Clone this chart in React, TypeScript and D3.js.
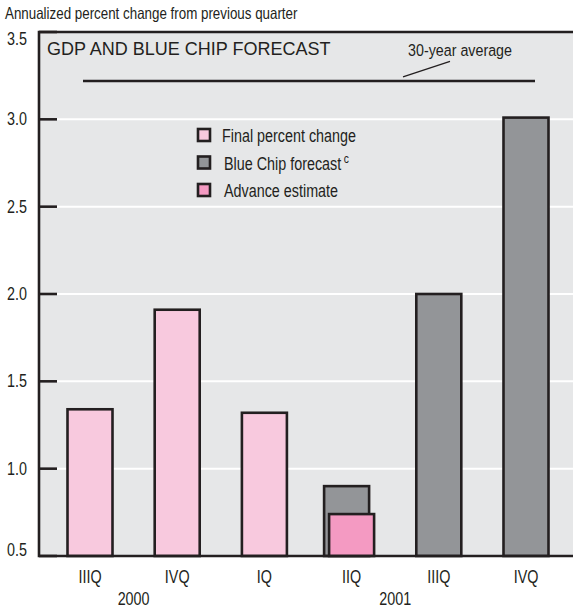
import React from "react";
import * as d3 from "d3";

// Quarters on the x axis and the years they belong to
const quarters = ["IIIQ 2000", "IVQ 2000", "IQ 2001", "IIQ 2001", "IIIQ 2001", "IVQ 2001"];
const quarterLabels = ["IIIQ", "IVQ", "IQ", "IIQ", "IIIQ", "IVQ"];
const yearLabels = [
  { year: "2000", from: "IIIQ 2000", to: "IVQ 2000" },
  { year: "2001", from: "IQ 2001", to: "IVQ 2001" },
];

// Annualized percent change
const finalChange = [1.34, 1.91, 1.32, null, null, null];
const blueChipForecast = [null, null, null, 0.9, 2.0, 3.01];
const advanceEstimate = [null, null, null, 0.74, null, null];
const thirtyYearAverage = 3.22;

const yTicks = [0.5, 1.0, 1.5, 2.0, 2.5, 3.0, 3.5];
const legendItems = [
  { label: "Final percent change", key: "final" },
  { label: "Blue Chip forecast", key: "forecast", note: "c" },
  { label: "Advance estimate", key: "advance" },
];

const W = 573;
const H = 609;
const INK = "#231f20";
const BG = "#e6e7e8";
const COLORS: Record<string, string> = {
  final: "#f8c9de",
  forecast: "#939598",
  advance: "#f49ac2",
};
const SANS = "'Liberation Sans', Arial, Helvetica, sans-serif";
const NARROW_X = 0.82;

// Condensed text: regular sans squeezed horizontally
function NText({
  x,
  y,
  size = 17.5,
  anchor = "start",
  dy,
  children,
}: {
  x: number;
  y: number;
  size?: number;
  anchor?: "start" | "middle" | "end";
  dy?: string;
  children: React.ReactNode;
}) {
  return (
    <text
      transform={`translate(${x},${y}) scale(${NARROW_X},1)`}
      dy={dy}
      textAnchor={anchor}
      fontFamily={SANS}
      fontSize={size}
      fill={INK}
    >
      {children}
    </text>
  );
}

export default function App() {
  const plot = { left: 39, top: 32, right: W + 4, bottom: 556 };
  const y = d3.scaleLinear().domain([0.5, 3.5]).range([plot.bottom, plot.top]);
  const x = d3.scalePoint<string>().domain(quarters).range([90, 526]);
  const barW = 45;

  const bars: { key: string; x0: number; v: number }[] = [];
  quarters.forEach((q, i) => {
    const c = x(q)!;
    const f = finalChange[i];
    const b = blueChipForecast[i];
    const a = advanceEstimate[i];
    if (f != null) bars.push({ key: "final", x0: c - barW / 2, v: f });
    if (b != null) bars.push({ key: "forecast", x0: a != null ? c - barW / 2 - 5 : c - barW / 2, v: b });
    if (a != null) bars.push({ key: "advance", x0: c - barW / 2, v: a });
  });

  const avgY = y(thirtyYearAverage);

  return (
    <svg
      width={W}
      height={H}
      viewBox={`0 0 ${W} ${H}`}
      style={{ position: "fixed", left: 0, top: 0, background: "#fff" }}
    >
      <NText x={5} y={19} size={16.3}>
        Annualized percent change from previous quarter
      </NText>

      {/* plot panel */}
      <rect
        x={plot.left}
        y={plot.top}
        width={plot.right - plot.left}
        height={plot.bottom - plot.top}
        fill={BG}
      />

      {/* white gridlines */}
      {yTicks
        .filter((t) => t > 0.5 && t < 3.5)
        .map((t) => (
          <line
            key={`g${t}`}
            x1={plot.left}
            x2={plot.right}
            y1={y(t)}
            y2={y(t)}
            stroke="#ffffff"
            strokeWidth={2}
          />
        ))}

      {/* 30-year average */}
      <line x1={83} x2={535} y1={avgY} y2={avgY} stroke={INK} strokeWidth={2.5} />
      <line x1={403} y1={avgY - 4} x2={450} y2={avgY - 19.5} stroke={INK} strokeWidth={1.3} />
      <NText x={460} y={56} size={17.4} anchor="middle">
        30-year average
      </NText>

      <text x={47} y={55} fontFamily={SANS} fontSize={18} fill={INK}>
        GDP AND BLUE CHIP FORECAST
      </text>

      {/* bars */}
      {bars.map((b, i) => (
        <rect
          key={`b${i}`}
          x={b.x0}
          y={y(b.v)}
          width={barW}
          height={plot.bottom - y(b.v)}
          fill={COLORS[b.key]}
          stroke={INK}
          strokeWidth={2.6}
        />
      ))}

      {/* frame and ticks */}
      <path
        d={`M${plot.right},${plot.top}H${plot.left}V${plot.bottom}H${plot.right}`}
        fill="none"
        stroke={INK}
        strokeWidth={2.6}
      />
      {yTicks.map((t) => (
        <g key={`t${t}`}>
          <line x1={plot.left} x2={plot.left + 18} y1={y(t)} y2={y(t)} stroke={INK} strokeWidth={2.6} />
          <NText
            x={27}
            y={Math.min(Math.max(y(t), plot.top + 7), plot.bottom - 6)}
            dy="0.35em"
            anchor="end"
          >
            {t.toFixed(1)}
          </NText>
        </g>
      ))}

      {/* legend */}
      {legendItems.map((item, i) => (
        <g key={item.key} transform={`translate(198,${129 + i * 27.5})`}>
          <rect width={12} height={12} fill={COLORS[item.key]} stroke={INK} strokeWidth={2.6} />
          <NText x={i === 0 ? 24 : 26} y={13}>
            {item.label}
            {item.note && (
              <tspan fontSize={12.5} dy={-7} dx={3}>
                {item.note}
              </tspan>
            )}
          </NText>
        </g>
      ))}

      {/* x axis labels */}
      {quarters.map((q, i) => (
        <NText key={`x${q}`} x={x(q)!} y={583} anchor="middle">
          {quarterLabels[i]}
        </NText>
      ))}
      {yearLabels.map((yl) => (
        <NText key={yl.year} x={(x(yl.from)! + x(yl.to)!) / 2} y={605} anchor="middle">
          {yl.year}
        </NText>
      ))}
    </svg>
  );
}
